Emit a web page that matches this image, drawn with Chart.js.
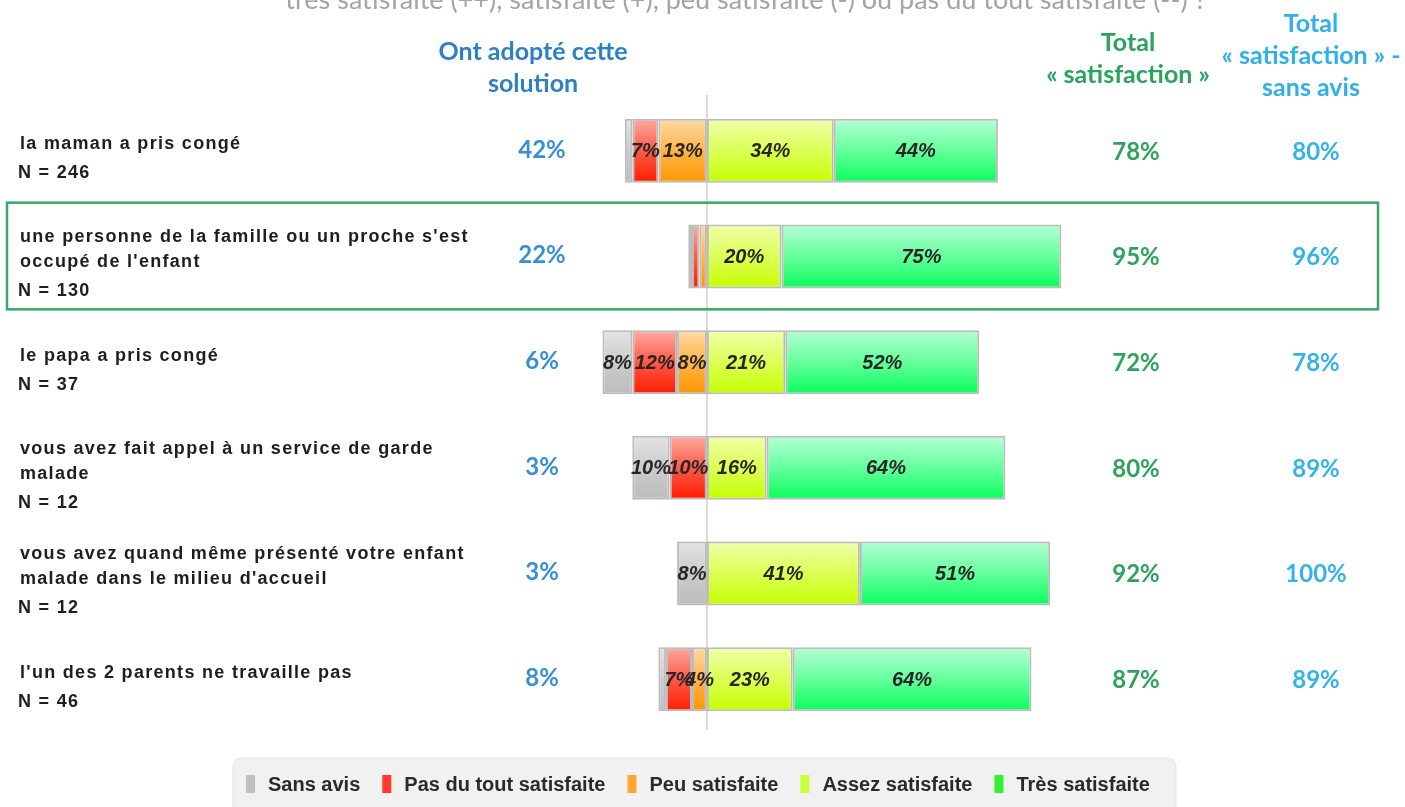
<!DOCTYPE html>
<html><head><meta charset="utf-8">
<script src="https://cdn.jsdelivr.net/npm/chart.js@4.4.1/dist/chart.umd.min.js"></script>
<style>html,body{margin:0;padding:0;background:#fff;} #wrap{width:1405px;height:807px;position:relative;}</style>
</head><body><div id="wrap"><canvas id="c"></canvas></div>
<script>
const categories = [
  ['la maman a pris congé'],
  ["une personne de la famille ou un proche s'est", "occupé de l'enfant"],
  ['le papa a pris congé'],
  ['vous avez fait appel à un service de garde', 'malade'],
  ['vous avez quand même présenté votre enfant', "malade dans le milieu d'accueil"],
  ["l'un des 2 parents ne travaille pas"]
];
const sampleSizes = ['N = 246', 'N = 130', 'N = 37', 'N = 12', 'N = 12', 'N = 46'];
const sansAvis = [2, 1, 8, 10, 8, 2];
const pasDuTout = [7, 2, 12, 10, 0, 7];
const peuSatisfaite = [13, 2, 8, 0, 0, 4];
const assezSatisfaite = [34, 20, 21, 16, 41, 23];
const tresSatisfaite = [44, 75, 52, 64, 51, 64];
const adopted = [42, 22, 6, 3, 3, 8];
const totalSatisfaction = [78, 95, 72, 80, 92, 87];
const totalSansAvis = [80, 96, 78, 89, 100, 89];
const seriesNames = ['Sans avis', 'Pas du tout satisfaite', 'Peu satisfaite', 'Assez satisfaite', 'Très satisfaite'];
const titleText = 'très satisfaite (++), satisfaite (+), peu satisfaite (-) ou pas du tout satisfaite (--) ?';
const headerAdopted = ['Ont adopté cette', 'solution'];
const headerTotal = ['Total', '« satisfaction »'];
const headerTotalSA = ['Total', '« satisfaction » -', 'sans avis'];
const highlightedRow = 1;

const BAR_PCT = 0.605;
const palette = {
  'Sans avis': { stops: ['#e4e4e4', '#cbcbcb', '#bdbdbd'], legend: '#c0c0c0' },
  'Pas du tout satisfaite': { stops: ['#ffaaa2', '#ff5a48', '#ff1c00'], legend: '#ff3b2a' },
  'Peu satisfaite': { stops: ['#ffdaa6', '#ffb448', '#ff9600'], legend: '#ffa530' },
  'Assez satisfaite': { stops: ['#f0ffaa', '#dcff55', '#c4ff00'], legend: '#ccff33' },
  'Très satisfaite': { stops: ['#b4ffd6', '#66ff9c', '#08ff5c'], legend: '#33ee33' }
};

function gradFor(name) {
  return function (ctx) {
    const chart = ctx.chart, ca = chart.chartArea;
    const st = palette[name].stops;
    if (!ca || ctx.type !== 'data') return st[1];
    const y = chart.scales.y.getPixelForValue(ctx.dataIndex);
    const h = (ca.bottom - ca.top) / categories.length * BAR_PCT;
    const g = chart.ctx.createLinearGradient(0, y - h / 2, 0, y + h / 2);
    g.addColorStop(0, st[0]); g.addColorStop(0.5, st[1]); g.addColorStop(1, st[2]);
    return g;
  };
}
const neg = a => a.map(v => -v);
function ds(name, data) {
  return { label: name, data: data, backgroundColor: gradFor(name), borderColor: '#bcbcbc', borderWidth: 2, borderSkipped: false };
}
// stacking order from the centre outwards
const datasets = [
  ds('Peu satisfaite', neg(peuSatisfaite)),
  ds('Pas du tout satisfaite', neg(pasDuTout)),
  ds('Sans avis', neg(sansAvis)),
  ds('Assez satisfaite', assezSatisfaite),
  ds('Très satisfaite', tresSatisfaite)
];

function spaced(ctx, text, x, y, spacing) {
  ctx.letterSpacing = spacing + 'px';
  ctx.fillText(text, x, y);
  ctx.letterSpacing = '0px';
}

const decor = {
  id: 'decor',
  beforeDatasetsDraw(chart) {
    const ctx = chart.ctx, ca = chart.chartArea, x0 = chart.scales.x.getPixelForValue(0);
    ctx.save();
    ctx.strokeStyle = '#d9d9d9'; ctx.lineWidth = 2;
    ctx.beginPath(); ctx.moveTo(x0, ca.top - 3); ctx.lineTo(x0, ca.bottom - 2); ctx.stroke();
    ctx.restore();
  },
  afterDatasetsDraw(chart) {
    const ctx = chart.ctx;
    ctx.save();
    ctx.font = 'italic bold 20px "Liberation Sans", Arial, sans-serif';
    ctx.fillStyle = '#262626'; ctx.textAlign = 'center'; ctx.textBaseline = 'middle';
    chart.data.datasets.forEach((d, di) => {
      const meta = chart.getDatasetMeta(di);
      meta.data.forEach((bar, i) => {
        const v = Math.abs(d.data[i]);
        if (v < 4) return;
        ctx.fillText(v + '%', (bar.x + bar.base) / 2, bar.y + 1);
      });
    });
    ctx.restore();
  },
  afterDraw(chart) {
    const ctx = chart.ctx, ca = chart.chartArea, ys = chart.scales.y;
    const rowH = (ca.bottom - ca.top) / categories.length;
    ctx.save();
    // title (cut at top)
    ctx.font = '27px Lato, "Open Sans", sans-serif';
    ctx.fillStyle = '#a4a4a4'; ctx.textAlign = 'center'; ctx.textBaseline = 'alphabetic';
    ctx.fillText(titleText, 746, 9);
    // headers
    ctx.font = 'bold 25px Lato, "Open Sans", sans-serif';
    ctx.textBaseline = 'middle';
    ctx.fillStyle = '#2f7fc4';
    headerAdopted.forEach((t, i) => ctx.fillText(t, 533, 52 + i * 32));
    ctx.fillStyle = '#2aa35c';
    headerTotal.forEach((t, i) => ctx.fillText(t, 1128, 43 + i * 32));
    ctx.fillStyle = '#2fb0e6';
    headerTotalSA.forEach((t, i) => ctx.fillText(t, 1311, 24 + i * 32));
    // row texts
    categories.forEach((lines, i) => {
      const yc = ys.getPixelForValue(i);
      ctx.font = 'bold 24px Lato, "Open Sans", sans-serif';
      ctx.textAlign = 'center'; ctx.textBaseline = 'middle';
      ctx.fillStyle = '#3a8fd4'; ctx.fillText(adopted[i] + '%', 542, yc - 1);
      ctx.fillStyle = '#2ea35c'; ctx.fillText(totalSatisfaction[i] + '%', 1136, yc + 1);
      ctx.fillStyle = '#33b3e8'; ctx.fillText(totalSansAvis[i] + '%', 1316, yc + 1);
      // left labels
      ctx.font = 'bold 18px "Liberation Sans", Arial, sans-serif';
      ctx.textAlign = 'left'; ctx.fillStyle = '#1e1e1e';
      const span = (lines.length - 1) * 25 + 29;
      let y = yc + 8 - span / 2;
      lines.forEach((t) => { spaced(ctx, t, 20, y, 1.3); y += 25; });
      spaced(ctx, sampleSizes[i], 18, y + 4, 1.3);
    });
    // highlight frame
    const yh = ys.getPixelForValue(highlightedRow);
    ctx.strokeStyle = '#3aa66a'; ctx.lineWidth = 2.5;
    ctx.strokeRect(7, yh - rowH / 2 - 1, 1371, rowH + 1);
    // legend
    ctx.fillStyle = '#f1f1f1'; ctx.strokeStyle = '#e4e4e4'; ctx.lineWidth = 1;
    ctx.beginPath(); ctx.roundRect(233, 758, 943, 60, 8); ctx.fill(); ctx.stroke();
    ctx.font = 'bold 20px "Liberation Sans Narrow", "Liberation Sans", Arial, sans-serif';
    ctx.textBaseline = 'middle'; ctx.textAlign = 'left';
    let lx = 246;
    seriesNames.forEach((n) => {
      ctx.fillStyle = palette[n].legend;
      ctx.fillRect(lx, 775, 9, 18);
      ctx.fillStyle = '#2a2a2a';
      ctx.fillText(n, lx + 22, 785);
      lx += 22 + ctx.measureText(n).width + 22;
    });
    ctx.restore();
  }
};

new Chart(document.getElementById('c'), {
  type: 'bar',
  data: { labels: categories.map(l => l.join(' ')), datasets: datasets },
  options: {
    responsive: true, maintainAspectRatio: false, animation: false,
    indexAxis: 'y',
    layout: { padding: { left: 595, right: 325, top: 98, bottom: 75 } },
    plugins: { legend: { display: false }, tooltip: { enabled: false } },
    datasets: { bar: { categoryPercentage: 1, barPercentage: BAR_PCT } },
    scales: {
      x: { stacked: true, min: -30, max: 100, display: false },
      y: { stacked: true, display: false }
    }
  },
  plugins: [decor]
});
</script>
</body></html>
